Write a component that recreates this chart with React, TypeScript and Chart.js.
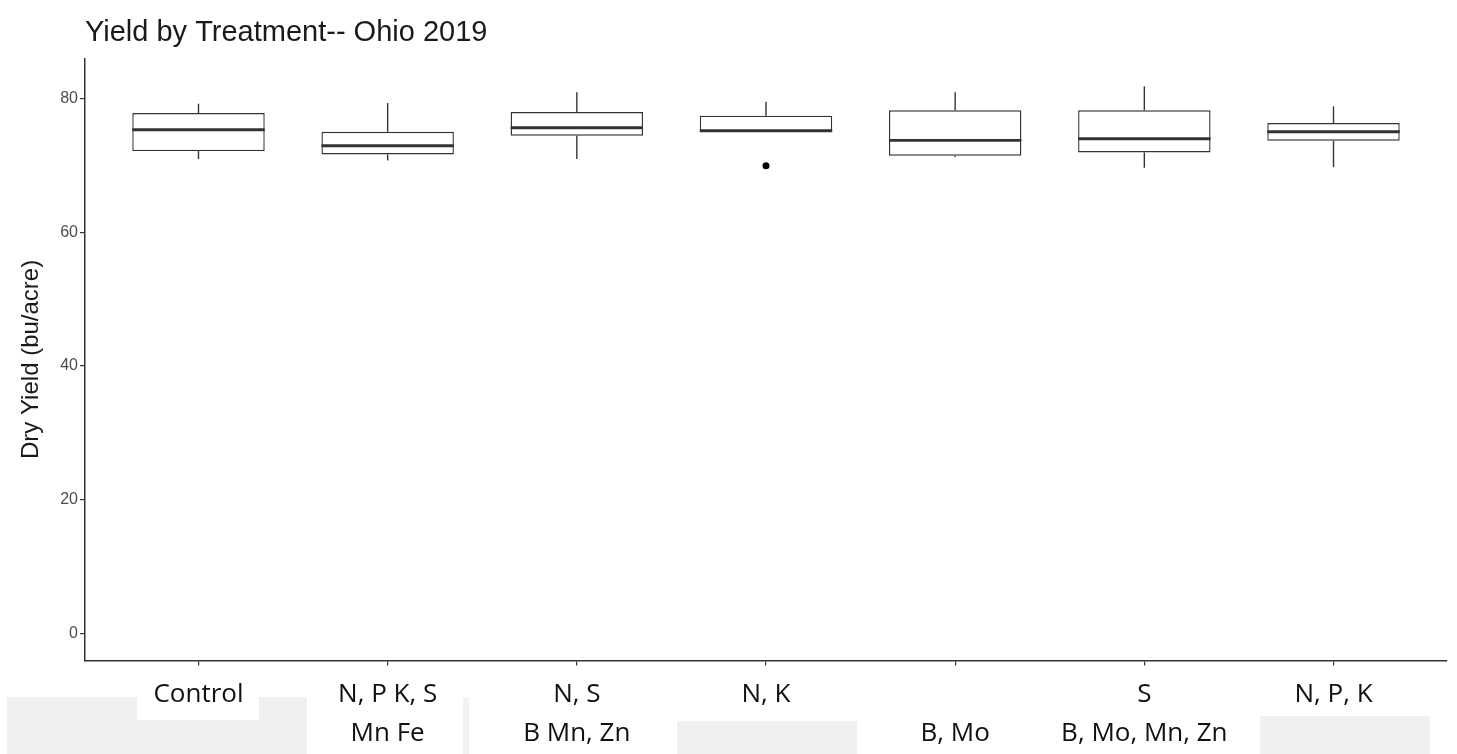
import React, { useEffect, useRef } from 'react';
import { Chart, registerables } from 'chart.js';

Chart.register(...registerables);

// ---- data ----
const categories: string[][] = [
  ['Control', ''],
  ['N, P K, S', 'Mn Fe'],
  ['N, S', 'B Mn, Zn'],
  ['N, K', ''],
  ['', 'B, Mo'],
  ['S', 'B, Mo, Mn, Zn'],
  ['N, P, K', ''],
];
const whiskerLow = [71.0, 70.8, 71.0, 75.1, 71.3, 69.7, 69.8];
const q1 = [72.2, 71.7, 74.5, 75.1, 71.5, 72.0, 73.75];
const median = [75.4, 73.0, 75.7, 75.25, 73.8, 74.05, 75.1];
const q3 = [77.9, 75.1, 78.05, 77.5, 78.3, 78.3, 76.4];
const whiskerHigh = [79.3, 79.4, 81.0, 79.6, 81.0, 81.9, 78.9];
const outliers: (number | null)[] = [null, null, null, 70.0, null, null, null];
const yTicks = [0, 20, 40, 60, 80];

const titleText = 'Yield by Treatment-- Ohio 2019';
const yTitle = 'Dry Yield (bu/acre)';

const INK = '#333333';

const boxPlugin = {
  id: 'boxWhiskers',
  afterDatasetsDraw(chart: any) {
    const meta = chart.getDatasetMeta(0);
    const xs = chart.scales.x;
    const ys = chart.scales.y;
    const ctx = chart.ctx as CanvasRenderingContext2D;
    const line = (x1: number, y1: number, x2: number, y2: number) => {
      ctx.beginPath();
      ctx.moveTo(x1, y1);
      ctx.lineTo(x2, y2);
      ctx.stroke();
    };
    ctx.save();
    ctx.strokeStyle = INK;
    meta.data.forEach((bar: any, i: number) => {
      const cx = xs.getPixelForValue(i);
      const half = bar.width / 2;
      ctx.lineWidth = 1.4;
      if (whiskerHigh[i] > q3[i]) line(cx, ys.getPixelForValue(q3[i]), cx, ys.getPixelForValue(whiskerHigh[i]));
      if (whiskerLow[i] < q1[i]) line(cx, ys.getPixelForValue(q1[i]), cx, ys.getPixelForValue(whiskerLow[i]));
      ctx.lineWidth = 2.8;
      const ym = ys.getPixelForValue(median[i]);
      line(cx - half, ym, cx + half, ym);
    });
    ctx.restore();
  },
};

const patches = [
  { left: 7, top: 697, width: 300, height: 57, color: '#eff0ef' },
  { left: 137, top: 697, width: 122, height: 23, color: '#ffffff' },
  { left: 463, top: 697, width: 6, height: 57, color: '#f1f2f1' },
  { left: 677, top: 721, width: 180, height: 33, color: '#eff0ef' },
  { left: 1260, top: 716, width: 170, height: 38, color: '#eff0ef' },
];

export default function App() {
  const ref = useRef<HTMLCanvasElement | null>(null);

  useEffect(() => {
    if (!ref.current) return;
    const chart = new Chart(ref.current, {
      type: 'bar',
      data: {
        datasets: [
          {
            type: 'bar',
            data: categories.map((_, i) => ({ x: i, y: [q1[i], q3[i]] })) as any,
            backgroundColor: '#ffffff',
            borderColor: INK,
            borderWidth: 1.4,
            borderSkipped: false,
            barPercentage: 0.7,
            categoryPercentage: 1,
            grouped: false,
          } as any,
          {
            type: 'line',
            data: categories.map((_, i) => ({ x: i, y: outliers[i] })) as any,
            showLine: false,
            pointRadius: 3.5,
            pointBackgroundColor: '#000000',
            pointBorderColor: '#000000',
            pointBorderWidth: 0,
          } as any,
        ],
      },
      options: {
        responsive: false,
        animation: false,
        devicePixelRatio: 1,
        layout: { padding: { left: 0, right: 10, top: 0, bottom: 0 } },
        plugins: {
          legend: { display: false },
          tooltip: { enabled: false },
          title: {
            display: true,
            text: titleText,
            align: 'start',
            fullSize: false,
            color: '#1a1a1a',
            font: { family: "'Liberation Sans', Arial, sans-serif", size: 29, weight: 'normal' },
            padding: { top: 16, bottom: 7.5 },
          },
        },
        scales: {
          x: {
            type: 'linear',
            offset: false,
            min: -0.6,
            max: 6.6,
            afterBuildTicks: (scale: any) => {
              scale.ticks = categories.map((_, i) => ({ value: i }));
            },
            afterFit: (scale: any) => {
              scale.height = 93.5;
            },
            grid: { display: true, offset: false, drawOnChartArea: false, drawTicks: true, tickLength: 5, color: INK, lineWidth: 1.2 },
            border: { display: true, color: INK, width: 1.5 },
            ticks: {
              autoSkip: false,
              maxRotation: 0,
              minRotation: 0,
              padding: 10,
              color: '#111111',
              font: { family: "'Open Sans', sans-serif", size: 26, lineHeight: 1.5 },
              callback: (value: any) => categories[Math.round(Number(value))],
            },
          },
          y: {
            min: -4.1,
            max: 86.1,
            afterBuildTicks: (scale: any) => {
              scale.ticks = yTicks.map((v) => ({ value: v }));
            },
            afterFit: (scale: any) => {
              scale.width = 85;
            },
            grid: { display: true, drawOnChartArea: false, drawTicks: true, tickLength: 5, color: INK, lineWidth: 1.2 },
            border: { display: true, color: INK, width: 1.5 },
            ticks: {
              padding: 2,
              color: '#4d4d4d',
              font: { family: "'Liberation Sans', Arial, sans-serif", size: 16 },
            },
            title: {
              display: true,
              text: yTitle,
              color: '#1a1a1a',
              font: { family: "'Liberation Sans', Arial, sans-serif", size: 24 },
              padding: { top: 17, bottom: 0 },
            },
          },
        },
      } as any,
      plugins: [boxPlugin],
    });
    return () => chart.destroy();
  }, []);

  return (
    <div style={{ position: 'fixed', left: 0, top: 0, width: 1457, height: 754, background: '#ffffff', overflow: 'hidden' }}>
      {patches.map((p, i) => (
        <div
          key={i}
          style={{ position: 'absolute', left: p.left, top: p.top, width: p.width, height: p.height, background: p.color }}
        />
      ))}
      <canvas ref={ref} width={1457} height={754} style={{ position: 'absolute', left: 0, top: 0 }} />
    </div>
  );
}
